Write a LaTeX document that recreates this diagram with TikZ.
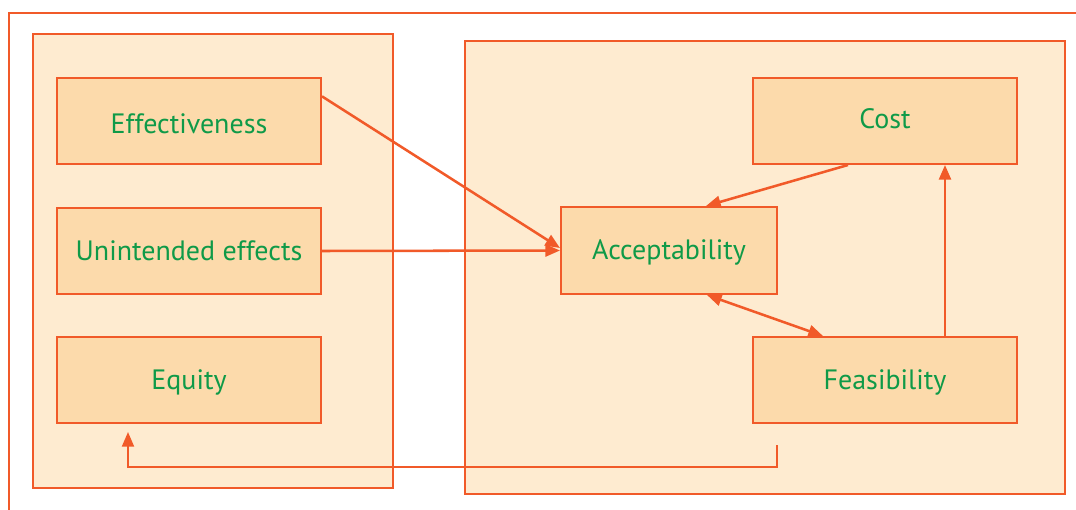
\documentclass[tikz,border=0pt]{standalone}
\usepackage{fontspec}
\setmainfont{PT Sans}
\usetikzlibrary{arrows.meta,calc}
\definecolor{edge}{HTML}{F15A29}
\definecolor{panelfill}{HTML}{FEEBD0}
\definecolor{boxfill}{HTML}{FCDAAB}
\definecolor{label}{HTML}{0F9A48}
% set a label with its baseline a given distance below the box centre
\newcommand\basedown[2]{\raisebox{-#1}[0pt][0pt]{#2}}
\tikzset{
  panel/.style={draw=edge, line width=1.5pt, fill=panelfill, inner sep=0pt},
  factor/.style={draw=edge, line width=1.5pt, fill=boxfill, inner sep=0pt,
    minimum width=198pt, minimum height=64.5pt,
    text=label, font=\fontsize{21}{24}\selectfont},
  link/.style={draw=edge, line width=1.9pt,
    -{Triangle[length=11pt,width=9pt]}},
  twolink/.style={draw=edge, line width=1.9pt,
    {Triangle[length=11pt,width=9pt]}-{Triangle[length=11pt,width=9pt]}},
}
\begin{document}
\begin{tikzpicture}[x=0.75pt,y=-0.75pt]
\useasboundingbox (0,0) rectangle (1076,510);
% open outer frame
\coordinate (fbl) at (9,512);
\coordinate (ftl) at (9,13);
\coordinate (ftr) at (1078,13);
\draw[edge, line width=1.2pt] (fbl) -- (ftl) -- (ftr);
% the two groups
\node[panel, minimum width=270pt, minimum height=340.5pt] (left) at (213,261) {};
\node[panel, minimum width=450pt, minimum height=339.75pt] (right) at (765,267.5) {};
% factors
\node[factor] (eff) at (189,121) {\basedown{9.5pt}{Effectiveness}};
\node[factor] (une) at (189,251) {\basedown{7pt}{Unintended effects}};
\node[factor] (equ) at (189,380) {\basedown{7pt}{Equity}};
\node[factor, minimum width=162pt, minimum height=65.25pt] (acc) at (669,250.5) {\basedown{6.5pt}{Acceptability}};
\node[factor] (cost) at (885,121) {\basedown{6pt}{Cost}};
\node[factor] (fea) at (885,380) {\basedown{6.75pt}{Feasibility}};
% connectors
\draw[link] ($(eff.north east)!0.22!(eff.south east)$) -- ($(acc.west)+(0,-2.5)$);
\draw[link] (une.east) -- (acc.west);
\draw[link] ($(cost.south)+(-37,0)$) -- ($(acc.north)+(37,0)$);
\draw[twolink] ($(acc.south)+(38,0)$) -- ($(fea.north)+(-62,0)$);
\draw[link] ($(fea.north)+(60,0)$) -- ($(cost.south)+(60,0)$);
\coordinate (ret) at (777,445);
\draw[draw=edge, line width=1.4pt, -{Triangle[length=11pt,width=9pt]}, shorten >=6pt]
  (ret) |- ($(equ.south)+(-61,43)$) -- ($(equ.south)+(-61,0)$);
\end{tikzpicture}
\end{document}
